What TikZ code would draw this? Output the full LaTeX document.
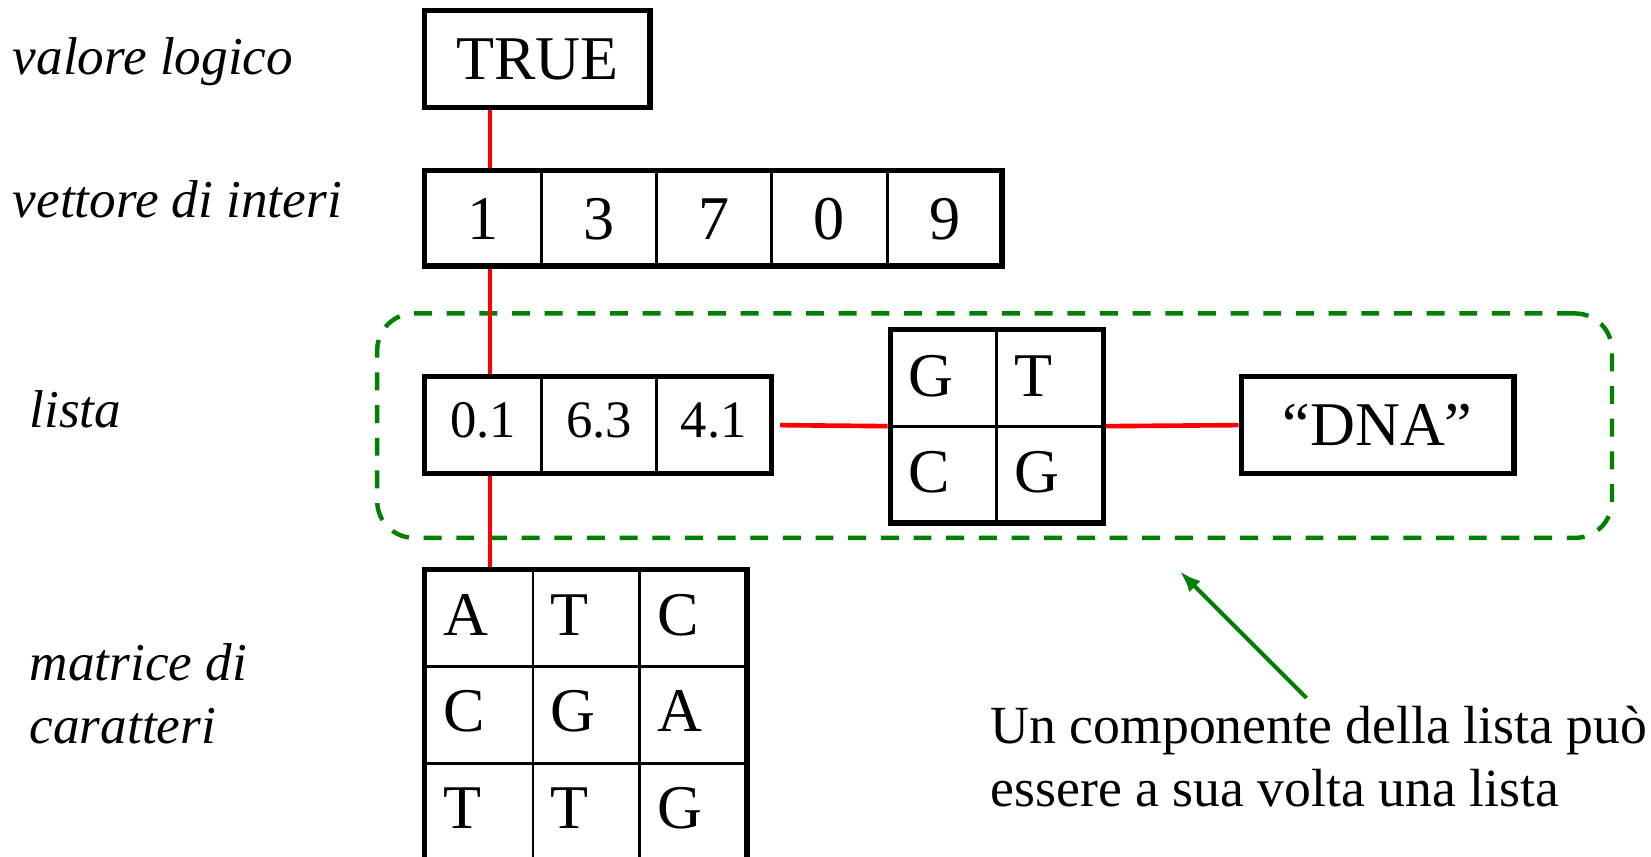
\documentclass[tikz,border=0pt]{standalone}
\usepackage{fontspec}
\setmainfont{Liberation Serif}
\usetikzlibrary{arrows.meta}
\definecolor{dgreen}{RGB}{0,128,0}
\begin{document}
\begin{tikzpicture}[x=1pt,y=-1pt,
 box/.style={draw, line width=5pt, inner sep=0pt},
 divider/.style={line width=2.6pt},
 bigtxt/.style={inner sep=0pt, font=\fontsize{59pt}{70pt}\selectfont},
 smalltxt/.style={inner sep=0pt, font=\fontsize{50pt}{60pt}\selectfont},
 lbl/.style={inner sep=0pt, anchor=base west, font=\fontsize{50.5pt}{60pt}\selectfont\itshape},
 note/.style={inner sep=0pt, anchor=base west, font=\fontsize{51pt}{60pt}\selectfont},
 link/.style={red, line width=4.4pt},
 frame/.style={draw=dgreen, line width=4.2pt, dash pattern=on 17pt off 14pt, rounded corners=35pt, inner sep=0pt},
 pointer/.style={dgreen, line width=3.8pt, -{Latex[length=20pt,width=15pt]}}]
\useasboundingbox (0,0) rectangle (1567,812.5);
\clip (0,0) rectangle (1567,812.5);

% labels
\node[lbl] (l1) at (12,71) {valore logico};
\node[lbl] (l2) at (12,206) {vettore di interi};
\node[lbl] (l3) at (28,406) {lista};
\node[lbl] (l4) at (28,646) {matrice di};
\node[lbl] (l5) at (28,706) {caratteri};

% green group frame
\node[frame, minimum width=1172pt, minimum height=213pt] (grp) at (944,404) {};

% TRUE
\node[box, bigtxt, minimum width=214pt, minimum height=92pt] (true) at (510,56) {TRUE};

% vector
\node[box, minimum width=548pt, minimum height=91pt] (vec) at (677,207) {};
\foreach \x in {514,623,732,842} \draw[divider] (\x,161.5) -- (\x,252.5);
\node[bigtxt, anchor=base] (v1) at (458.5,227.5) {1};
\node[bigtxt, anchor=base] (v2) at (568.5,227.5) {3};
\node[bigtxt, anchor=base] (v3) at (677.5,227.5) {7};
\node[bigtxt, anchor=base] (v4) at (787,227.5) {0};
\node[bigtxt, anchor=base] (v5) at (896.5,227.5) {9};

% list numeric vector
\node[box, minimum width=329pt, minimum height=92pt] (lst) at (567.5,403.5) {};
\foreach \x in {514,623} \draw[divider] (\x,357.5) -- (\x,449.5);
\node[smalltxt, anchor=base] (n1) at (458.5,415.5) {0.1};
\node[smalltxt, anchor=base] (n2) at (568.5,415.5) {6.3};
\node[smalltxt, anchor=base] (n3) at (677.5,415.5) {4.1};

% 2x2 matrix
\node[box, minimum width=202pt, minimum height=184pt] (gt) at (946,404.5) {};
\draw[divider] (946,312.5) -- (946,496.5);
\draw[divider] (845,404.5) -- (1047,404.5);
\node[bigtxt, anchor=base west] (g1) at (862,376.5) {G};
\node[bigtxt, anchor=base west] (g2) at (963,376.5) {T};
\node[bigtxt, anchor=base west] (g3) at (862,467.5) {C};
\node[bigtxt, anchor=base west] (g4) at (963,467.5) {G};

% DNA
\node[box, bigtxt, minimum width=259pt, minimum height=92pt] (dna) at (1307.5,403.5) {“DNA”};

% 3x3 matrix
\node[box, minimum width=306pt, minimum height=276pt] (mat) at (556,678.5) {};
\foreach \x in {506,607} \draw[divider] (\x,540.5) -- (\x,816.5);
\foreach \y in {632.5,724.5} \draw[divider] (403,\y) -- (709,\y);
\node[bigtxt, anchor=base west] (m11) at (421,603.5) {A};
\node[bigtxt, anchor=base west] (m12) at (522,603.5) {T};
\node[bigtxt, anchor=base west] (m13) at (624,603.5) {C};
\node[bigtxt, anchor=base west] (m21) at (421,694.5) {C};
\node[bigtxt, anchor=base west] (m22) at (522,694.5) {G};
\node[bigtxt, anchor=base west] (m23) at (624,694.5) {A};
\node[bigtxt, anchor=base west] (m31) at (421,786.5) {T};
\node[bigtxt, anchor=base west] (m32) at (522,786.5) {T};
\node[bigtxt, anchor=base west] (m33) at (624,786.5) {G};

% red connectors
\coordinate (vx) at (465,0);
\draw[link] (true.south -| vx) -- (vec.north -| vx);
\draw[link] (vec.south -| vx) -- (lst.north -| vx);
\draw[link] (lst.south -| vx) -- (mat.north -| vx);
\draw[link] ([xshift=6pt]lst.east) -- (gt.west);
\draw[link] (gt.east) -- (dna.west);

% note
\node[note] (t1) at (940,705.5) {Un componente della lista può};
\node[note] (t2) at (940,765.5) {essere a sua volta una lista};
\coordinate (tail) at (1240,662.5);
\coordinate (tip) at (1120,542.5);
\draw[pointer] (tail) -- (tip);
\end{tikzpicture}
\end{document}
